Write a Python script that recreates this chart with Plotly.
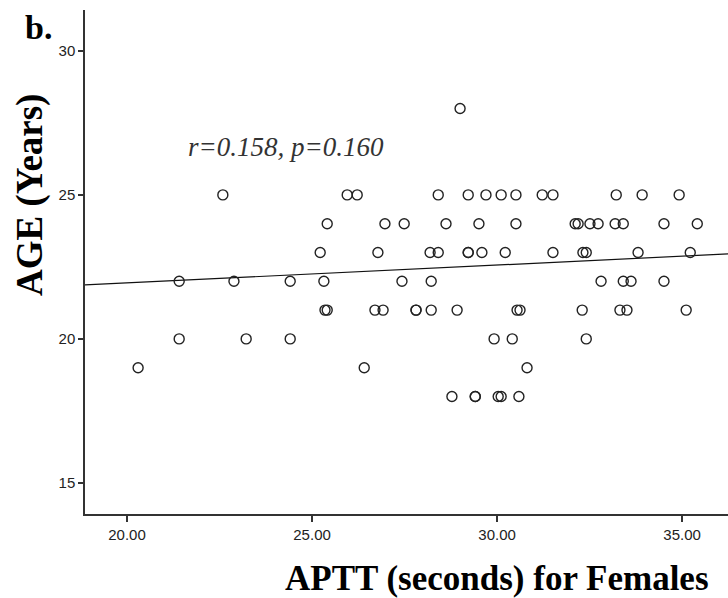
import plotly.graph_objects as go

# APTT (seconds) and AGE (years) for females
aptt = [
    29.00,
    22.59, 25.95, 26.22, 28.41, 29.22, 29.70, 30.11, 30.51, 31.22, 31.51, 33.22, 33.92, 34.92,
    25.41, 26.97, 27.49, 28.62, 29.51, 30.51, 32.11, 32.19, 32.51, 32.73, 33.19, 33.41, 34.51, 35.41,
    25.22, 26.78, 28.19, 28.41, 29.22, 29.22, 29.59, 30.22, 31.51, 32.32, 32.41, 33.81, 35.22,
    21.41, 22.89, 24.41, 25.32, 27.43, 28.22, 32.81, 33.41, 33.62, 34.51,
    25.35, 25.41, 26.70, 26.92, 27.81, 27.81, 28.22, 28.92, 30.54, 30.62, 32.30, 33.32, 33.51, 35.11,
    21.41, 23.22, 24.41, 29.92, 30.41, 32.41,
    20.30, 26.41, 30.81,
    28.78, 29.41, 29.41, 30.03, 30.11, 30.59,
]
age = (
    [28]
    + [25] * 13
    + [24] * 14
    + [23] * 13
    + [22] * 10
    + [21] * 14
    + [20] * 6
    + [19] * 3
    + [18] * 6
)

# fit line
fit_intercept = 20.707
fit_slope = 0.0619
fit_x = [18.5, 36.6]
fit_y = [fit_intercept + fit_slope * v for v in fit_x]

x_ticks = [20, 25, 30, 35]
y_ticks = [15, 20, 25, 30]
stat_text = "r=0.158, p=0.160"

fig = go.Figure()
fig.add_trace(go.Scatter(
    x=fit_x, y=fit_y, mode="lines",
    line=dict(color="#111111", width=1.2),
    hoverinfo="skip", showlegend=False,
))
fig.add_trace(go.Scatter(
    x=aptt, y=age, mode="markers",
    marker=dict(symbol="circle-open", size=10, color="#222222",
                line=dict(width=1.4, color="#222222")),
    showlegend=False,
))

tick_font = dict(family="Liberation Sans, Arial, sans-serif", size=15, color="#222222")
axis_common = dict(
    showgrid=False, zeroline=False, showline=True,
    linecolor="#333333", linewidth=1.5,
    ticks="outside", tickwidth=1.5, tickcolor="#333333",
    tickfont=tick_font,
)

fig.update_layout(
    width=728, height=598,
    margin=dict(l=85, r=0, t=10, b=84),
    paper_bgcolor="white", plot_bgcolor="white",
    xaxis=dict(range=[18.865, 36.24], tickvals=x_ticks, ticklen=6,
               ticktext=[f"{v:.2f}" for v in x_ticks], **axis_common),
    yaxis=dict(range=[13.92, 31.42], tickvals=y_ticks, ticklen=5,
               ticktext=[str(v) for v in y_ticks], **axis_common),
    annotations=[
        dict(text="<b>AGE (Years)</b>", xref="paper", yref="paper",
             x=-0.0855, y=0.633, textangle=-90, showarrow=False,
             xanchor="center", yanchor="middle",
             font=dict(family="Liberation Serif, Times New Roman, serif", size=37, color="#000000")),
        dict(text="<b>APTT (seconds) for Females</b>", xref="paper", yref="paper",
             x=0.641, y=-0.127, showarrow=False,
             xanchor="center", yanchor="middle",
             font=dict(family="Liberation Serif, Times New Roman, serif", size=35, color="#000000")),
        dict(text="<b>b.</b>", xref="paper", yref="paper",
             x=-0.073, y=0.966, showarrow=False,
             xanchor="center", yanchor="middle",
             font=dict(family="Liberation Serif, Times New Roman, serif", size=34, color="#000000")),
        dict(text=f"<i>{stat_text}</i>", xref="x", yref="y",
             x=24.3, y=26.67, showarrow=False,
             xanchor="center", yanchor="middle",
             font=dict(family="Liberation Serif, Times New Roman, serif", size=27, color="#333333")),
    ],
)

fig.write_html("out.html", config={"displayModeBar": False},
               post_script="document.body.style.margin='0px';")
